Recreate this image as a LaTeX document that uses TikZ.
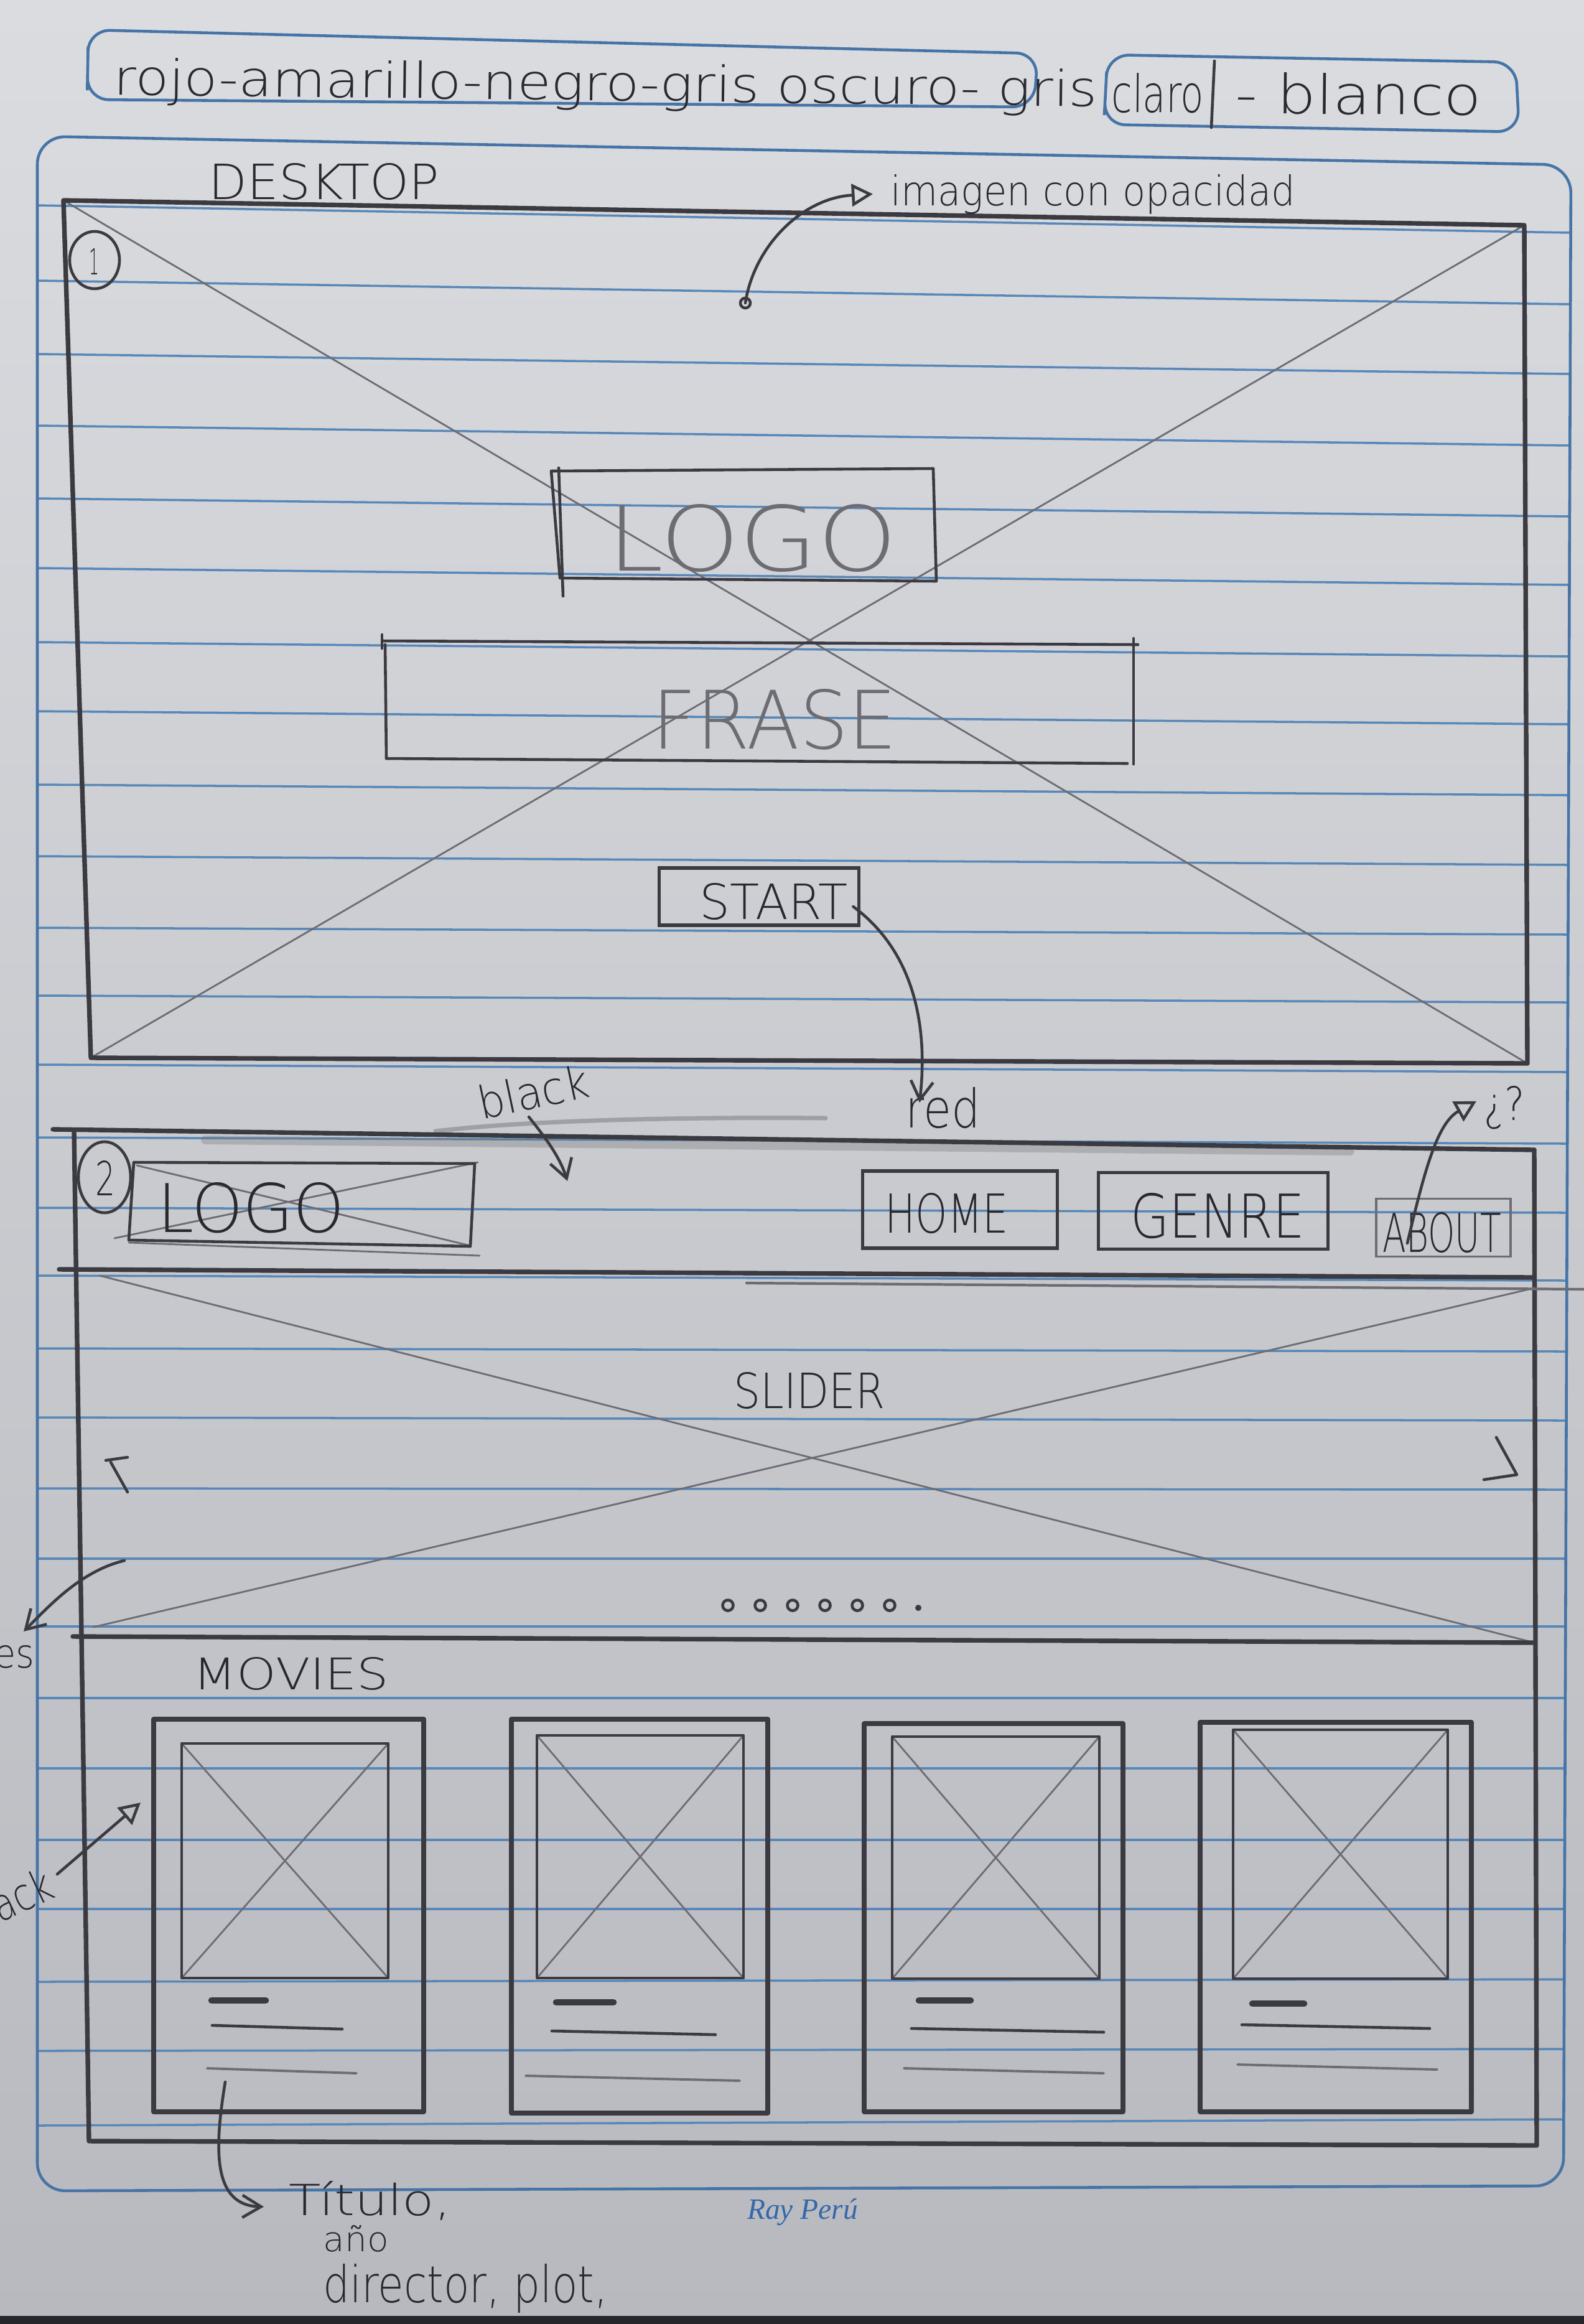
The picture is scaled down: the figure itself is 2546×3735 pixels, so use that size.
\documentclass[tikz,border=0pt]{standalone}
\usepackage{fontspec}
\usepackage{graphicx}
\setmainfont{Fira Sans}
\newfontfamily\thinfont{DejaVu Sans ExtraLight}
\newfontfamily\printfont{Liberation Serif}
\usetikzlibrary{arrows.meta,calc}

\definecolor{paperhi}{RGB}{219,220,224}
\definecolor{paperlo}{RGB}{184,185,190}
\definecolor{tableedge}{RGB}{38,38,42}
\definecolor{ruleblue}{RGB}{88,136,184}
\definecolor{penblue}{RGB}{70,116,166}
\definecolor{lead}{RGB}{58,58,64}
\definecolor{leadtext}{RGB}{40,40,46}
\definecolor{leadlight}{RGB}{108,108,114}
\definecolor{printblue}{RGB}{52,104,170}

% scale a text to a given width and height (in mm)
\newcommand\fitbox[3]{\resizebox{#1mm}{#2mm}{\thinfont #3}}

\tikzset{
  rule/.style={draw=ruleblue, line width=1pt},
  bluepen/.style={draw=penblue, line width=1.3pt},
  pencil/.style={draw=lead, line width=2.1pt, line cap=round, line join=round},
  pencilmid/.style={draw=lead, line width=1.3pt, line cap=round, line join=round},
  pencilfaint/.style={draw=leadlight, line width=0.8pt, line cap=round},
  hand/.style={inner sep=0pt, text=leadtext},
  handlight/.style={inner sep=0pt, text=leadlight},
  btn/.style={draw=lead, line width=1.6pt, inner sep=0pt},
  barb/.style={-{Straight Barb[length=0.3cm,width=0.36cm]}},
  tri/.style={-{Triangle[open,length=0.34cm,width=0.36cm]}},
}

\begin{document}
\begin{tikzpicture}[x=0.01cm, y=-0.01cm]
\useasboundingbox (0,0) rectangle (2546,3735);

% paper and table edge
\shade[top color=paperhi, bottom color=paperlo] (0,0) rectangle (2546,3735);
\fill[tableedge] (0,3722) rectangle (2546,3735);

% ruled lines of the notebook page
\foreach \yl/\yr in {330/374, 451/489, 569/601, 684/716, 801/830, 913/940,
  1032/1055, 1143/1164, 1261/1278, 1376/1390, 1491/1502, 1600/1611,
  1711/1723, 1828/1838, 1941/1949, 2050/2058, 2167/2172, 2278/2283,
  2392/2394, 2505/2505, 2614/2614, 2729/2729, 2842/2842, 2957/2957,
  3068/3068, 3185/3181, 3296/3293, 3416/3406}{
  \pgfmathsetmacro{\xr}{2524-(\yr-265)*0.0037}
  \draw[rule] (60,\yl) -- (\xr,\yr);
}
% page margin frame
\draw[bluepen, rounded corners=0.45cm] (60,1800) -- (60,219) -- (2525,265) -- (2513,3513) -- (60,3521) -- cycle;

% colour palette
\draw[bluepen, rounded corners=0.35cm] (141,110) -- (142,48) -- (1668,86) -- (1662,172) -- (140,160) -- cycle;
\draw[bluepen, rounded corners=0.35cm] (1777,150) -- (1780,88) -- (2436,100) -- (2442,212) -- (1774,200) -- cycle;
\node[hand, anchor=base west, rotate=-0.7] (palette) at (182,152) {\fitbox{158}{6}{rojo-amarillo-negro-gris oscuro- gris}};
\node[hand, anchor=base west, rotate=-0.5] (claro) at (1786,180) {\fitbox{14.8}{6.3}{claro}};
\node[hand, anchor=base west, rotate=-0.5] (blanco) at (1985,182) {\fitbox{39.5}{6.6}{- blanco}};
\draw[pencilmid] (1952,98) -- (1947,205);

% ---------- screen 1 : landing ----------
\node[hand, anchor=base west] (desk) at (335,320) {\fitbox{37}{5.8}{DESKTOP}};
\coordinate (s1tl) at (102,322);
\coordinate (s1tr) at (2450,362);
\coordinate (s1br) at (2455,1709);
\coordinate (s1bl) at (146,1700);
\draw[pencilfaint] (s1tl) -- (s1br);
\draw[pencilfaint] (s1tr) -- (s1bl);
\draw[pencil] (s1tl) -- (s1tr) -- (s1br) -- (s1bl) -- cycle;
\draw[pencilmid] (152,418) ellipse [x radius=0.4cm, y radius=0.46cm];
\node[hand] (one) at (152,420) {\fitbox{1.6}{4.2}{1}};

% background image note
\node[hand, anchor=base west] (imgtxt) at (1431,330) {\fitbox{65}{5}{imagen con opacidad}};
\coordinate (imgdot) at (1198,487);
\draw[pencilmid] (imgdot) circle [radius=0.08cm];
\draw[pencilmid, tri] (imgdot) .. controls (1212,395) and (1290,318) .. ($(imgtxt.west)+(-28,0)$);

% logo
\draw[pencilmid] (886,757) -- (1500,753) -- (1505,934) -- (900,929) -- cycle;
\draw[pencilmid] (898,752) -- (905,958);
\node[handlight, anchor=base west] (logo1) at (976,917) {\fitbox{46.5}{10.7}{LOGO}};

% phrase
\draw[pencilmid] (614,1030) -- (1829,1036);
\draw[pencilmid] (614,1020) -- (614,1042);
\draw[pencilmid] (1822,1026) -- (1822,1228);
\draw[pencilmid] (619,1036) -- (621,1219);
\draw[pencilmid] (621,1219) -- (1812,1227);
\node[handlight, anchor=base west] (frase) at (1048,1203) {\fitbox{39.3}{9.6}{FRASE}};

% start button
\node[btn, minimum width=3.21cm, minimum height=0.92cm] (startbtn) at (1220,1441) {};
\node[hand, anchor=base west] (starttxt) at (1124,1477) {\fitbox{23.8}{5.8}{START}};
\node[hand, anchor=base west] (redtxt) at (1455,1812) {\fitbox{12}{6.5}{red}};
\coordinate (redtip) at (1478,1772);
\draw[pencilmid, barb] ($(startbtn.east)+(-12,16)$) .. controls (1470,1530) and (1492,1650) .. (redtip);

% ---------- screen 2 : home ----------
% smudges of an erased line
\draw[draw=leadlight, line width=2pt, opacity=0.45, line cap=round] (700,1818) .. controls (850,1800) and (1100,1795) .. (1327,1797);
\draw[draw=leadlight, line width=4pt, opacity=0.3, line cap=round] (330,1832) -- (2170,1850);

\coordinate (s2tl) at (119,1818);
\coordinate (s2tr) at (2466,1848);
\coordinate (s2br) at (2470,3448);
\coordinate (s2bl) at (143,3441);
\draw[pencil] (85,1815) -- (s2tr);
\draw[pencil] (s2tl) -- (s2bl) -- (s2br) -- (s2tr);

\node[hand, anchor=base west, rotate=12] (blacktxt) at (774,1800) {\fitbox{18}{5.5}{black}};
\coordinate (blacktip) at (912,1898);
\draw[pencilmid, barb] (850,1795) .. controls (878,1830) and (900,1860) .. (blacktip);

\draw[pencilmid] (168,1892) ellipse [x radius=0.42cm, y radius=0.57cm];
\node[hand] (two) at (170,1893) {\fitbox{3.2}{5.6}{2}};

% header logo placeholder
\draw[pencilfaint] (220,1873) -- (756,2002);
\draw[pencilfaint] (184,1990) -- (768,1868);
\draw[pencilmid] (215,1868) -- (763,1870) -- (756,2003) -- (207,1993) -- cycle;
\draw[pencilfaint] (207,1997) -- (771,2018);
\node[hand, anchor=base west] (logo2) at (253,1980) {\fitbox{30}{8}{LOGO}};

% navigation
\node[btn, minimum width=3.13cm, minimum height=1.24cm] (homebtn) at (1543,1944) {};
\node[hand, anchor=base west] (hometxt) at (1422,1981) {\fitbox{19.8}{6.4}{HOME}};
\node[btn, minimum width=3.69cm, minimum height=1.23cm] (genrebtn) at (1950,1946) {};
\node[hand, anchor=base west] (genretxt) at (1817,1989) {\fitbox{27.9}{7.2}{GENRE}};
\node[btn, draw=leadlight, line width=1.1pt, minimum width=2.16cm, minimum height=0.93cm] (aboutbtn) at (2320,1973) {};
\node[hand, anchor=base west] (abouttxt) at (2222,2012) {\fitbox{19}{6.4}{ABOUT}};
\node[hand, anchor=base west] (qtxt) at (2385,1800) {\fitbox{6.5}{5.5}{¿?}};
\draw[pencilmid, tri] (2262,1998) .. controls (2290,1880) and (2310,1805) .. ($(qtxt.west)+(-12,-10)$);

\draw[pencil] (95,2040) -- (2466,2053);
\draw[pencilfaint, line width=1.2pt] (1200,2062) -- (2546,2072);

% slider
\draw[pencilfaint] (160,2050) -- (2466,2640);
\draw[pencilfaint] (2466,2070) -- (150,2615);
\node[hand, anchor=base west] (slidertxt) at (1179,2263) {\fitbox{24.3}{5.8}{SLIDER}};
\draw[pencilmid] (170,2347) -- (205,2342);
\draw[pencilmid] (178,2350) -- (205,2398);
\draw[pencilmid] (2405,2310) -- (2438,2370) -- (2385,2378);
\foreach \dx in {1170,1222,1274,1326,1378,1430}{
  \draw[pencilmid] (\dx,2580) circle [radius=0.085cm];
}
\fill[lead] (1476,2584) circle [radius=0.05cm];
\draw[pencil] (117,2630) -- (2466,2640);

% side notes
\node[hand, anchor=base east] (estxt) at (56,2680) {\fitbox{6.5}{3.6}{es}};
\coordinate (estip) at (38,2622);
\draw[pencilmid, barb] (200,2508) .. controls (130,2525) and (80,2580) .. (estip);
\node[hand, anchor=base east, rotate=25] (acktxt) at (92,3048) {\fitbox{10}{5.5}{ack}};
\coordinate (acktip) at (226,2897);
\draw[pencilmid, tri] (92,3012) -- (acktip);

% movies
\node[hand, anchor=base west] (moviestxt) at (310,2715) {\fitbox{31.4}{5.2}{MOVIES}};
\foreach \ox/\oy/\px/\py/\ix/\iy/\jx/\jy/\sa/\sb/\sy/\ma/\mb/\my/\la/\lb/\ly in {
  247/2763/681/3394/292/2802/624/3179/340/427/3215/341/550/3255/333/573/3324,
  822/2763/1234/3396/863/2789/1195/3179/894/986/3218/887/1150/3264/845/1189/3336,
  1389/2770/1805/3394/1434/2791/1767/3180/1477/1560/3215/1465/1774/3260/1453/1774/3324,
  1929/2768/2365/3394/1982/2780/2327/3180/2013/2096/3220/1996/2298/3254/1989/2310/3318}{
  \draw[pencil] (\ox,\oy) rectangle (\px,\py);
  \draw[pencilfaint] (\ix,\iy) -- (\jx,\jy);
  \draw[pencilfaint] (\jx,\iy) -- (\ix,\jy);
  \draw[pencilmid] (\ix,\iy) rectangle (\jx,\jy);
  \draw[draw=lead, line width=3pt, line cap=round] (\sa,\sy) -- (\sb,\sy);
  \draw[pencilmid] (\ma,\my) -- (\mb,\my+6);
  \draw[pencilfaint, line width=1.1pt] (\la,\ly) -- (\lb,\ly+8);
}

% card content note
\node[hand, anchor=base west] (titulo) at (464,3560) {\fitbox{26}{5.5}{Título,}};
\node[hand, anchor=base west] (anio) at (519,3618) {\fitbox{10.5}{4.2}{año}};
\node[hand, anchor=base west] (director) at (519,3700) {\fitbox{45.7}{6.2}{director, plot,}};
\coordinate (cardnote) at (362,3346);
\draw[pencilmid, barb] (cardnote) .. controls (345,3450) and (340,3545) .. ($(titulo.west)+(-40,10)$);

% printed brand of the notebook
\node[inner sep=0pt, text=printblue] (brand) at (1290,3555) {\printfont\itshape\fontsize{13.5}{13.5}\selectfont Ray Perú};
\end{tikzpicture}
\end{document}
